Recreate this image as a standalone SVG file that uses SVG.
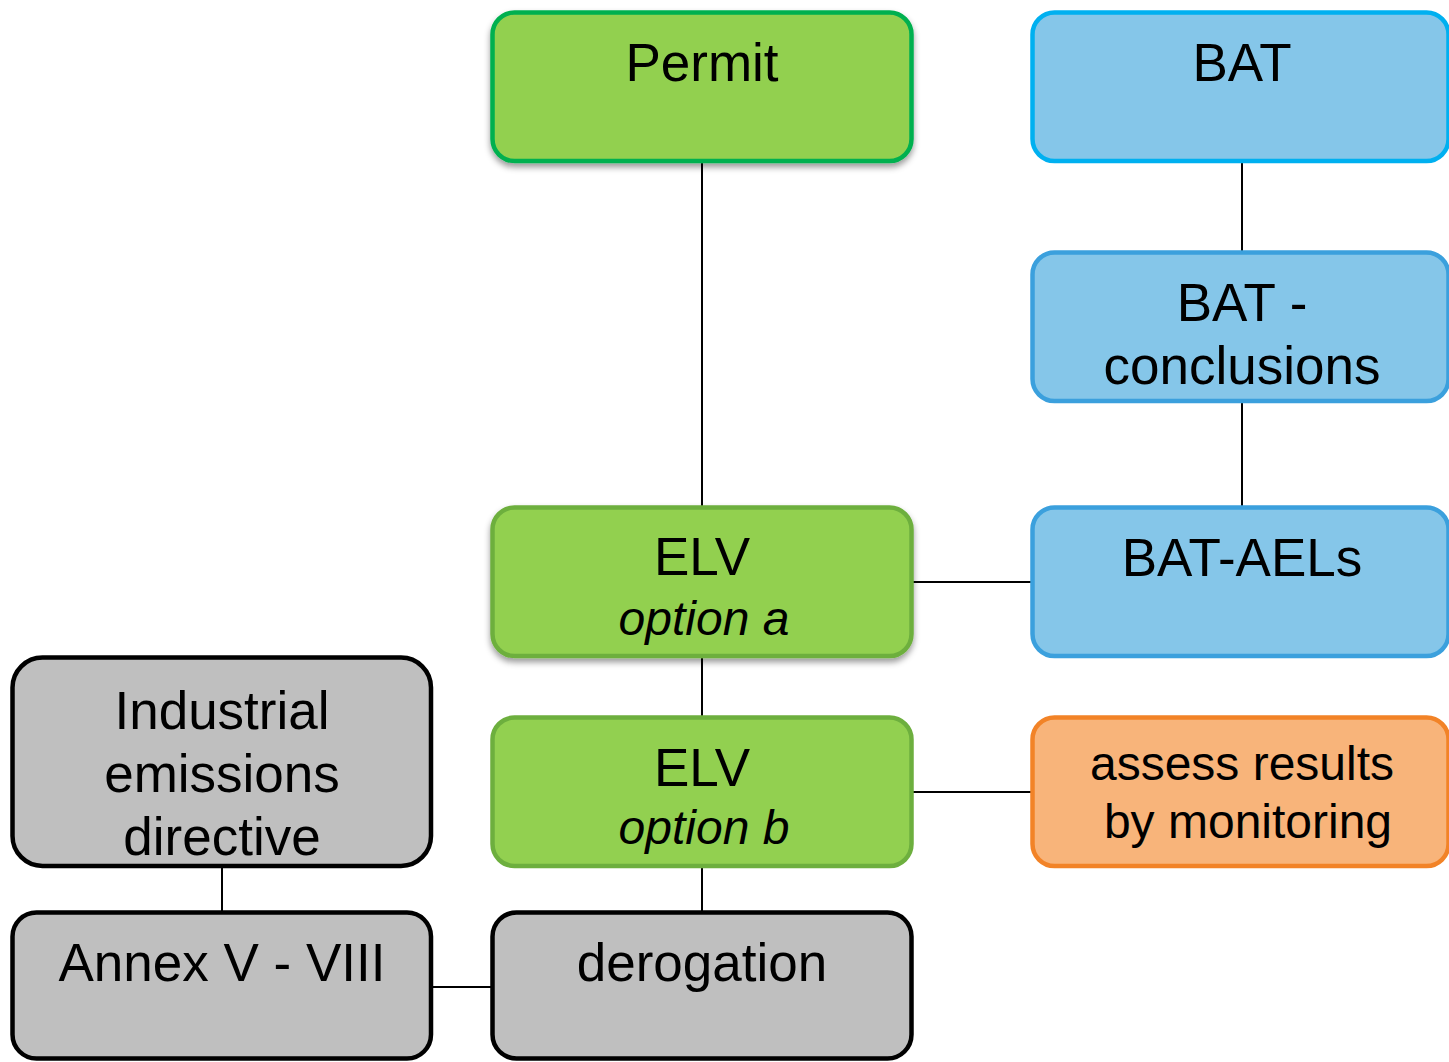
<svg xmlns="http://www.w3.org/2000/svg" width="1449" height="1062" viewBox="0 0 1449 1062">
  <style>
    .box { stroke-width: 4.5; }
    .green { fill: #92D050; stroke: #6DAF3E; }
    .permit { fill: #92D050; stroke: #00B050; }
    .blue { fill: #85C6E9; stroke: #3BA0DD; }
    .bat { fill: #85C6E9; stroke: #00B0F0; }
    .orange { fill: #F8B47A; stroke: #F28327; }
    .grey { fill: #BFBFBF; stroke: #000000; }
    .lbl { font-family: "Liberation Sans", Arial, sans-serif; font-size: 53px; fill: #000; text-anchor: middle; }
    .sm { font-size: 48px; }
    .it { font-style: italic; }
    .conn line { stroke: #000; stroke-width: 2; }
  </style>
  <defs>
    <filter id="shadow" x="-10%" y="-10%" width="120%" height="130%">
      <feDropShadow dx="0" dy="4" stdDeviation="3" flood-color="#000" flood-opacity="0.4"/>
    </filter>
  </defs>

  <!-- connectors -->
  <g id="connectors" class="conn">
    <line x1="702" y1="161" x2="702" y2="507"/>
    <line x1="1242" y1="161" x2="1242" y2="252"/>
    <line x1="1242" y1="401" x2="1242" y2="507"/>
    <line x1="912" y1="582" x2="1032" y2="582"/>
    <line x1="702" y1="656" x2="702" y2="717"/>
    <line x1="912" y1="792" x2="1032" y2="792"/>
    <line x1="702" y1="866" x2="702" y2="912"/>
    <line x1="222" y1="866" x2="222" y2="912"/>
    <line x1="431" y1="987" x2="492" y2="987"/>
  </g>

  <g id="permit">
    <rect class="box permit" x="492.5" y="12.5" width="419" height="148.5" rx="22" filter="url(#shadow)"/>
    <text class="lbl" x="702" y="81">Permit</text>
  </g>

  <g id="bat">
    <rect class="box bat" x="1032.5" y="12.5" width="416" height="148.5" rx="22"/>
    <text class="lbl" x="1242" y="81">BAT</text>
  </g>

  <g id="bat-conclusions">
    <rect class="box blue" x="1032.5" y="252.5" width="416" height="148.5" rx="22"/>
    <text class="lbl" x="1242" y="321">BAT -</text>
    <text class="lbl" x="1242" y="384">conclusions</text>
  </g>

  <g id="bat-aels">
    <rect class="box blue" x="1032.5" y="507.5" width="416" height="148.5" rx="22"/>
    <text class="lbl" x="1242" y="576">BAT-AELs</text>
  </g>

  <g id="elv-a">
    <rect class="box green" x="492.5" y="507.5" width="419" height="148.5" rx="22" filter="url(#shadow)"/>
    <text class="lbl" x="702" y="575">ELV</text>
    <text class="lbl sm it" x="704" y="635">option a</text>
  </g>

  <g id="elv-b">
    <rect class="box green" x="492.5" y="717.5" width="419" height="148.5" rx="22"/>
    <text class="lbl" x="702" y="786">ELV</text>
    <text class="lbl sm it" x="704" y="844">option b</text>
  </g>

  <g id="assess">
    <rect class="box orange" x="1032.5" y="717.5" width="416" height="148.5" rx="22"/>
    <text class="lbl sm" x="1242" y="780">assess results</text>
    <text class="lbl sm" x="1248" y="838">by monitoring</text>
  </g>

  <g id="ied">
    <rect class="box grey" x="12.5" y="657.5" width="418.5" height="208.5" rx="30"/>
    <text class="lbl" x="222" y="729">Industrial</text>
    <text class="lbl" x="222" y="792">emissions</text>
    <text class="lbl" x="222" y="855">directive</text>
  </g>

  <g id="annex">
    <rect class="box grey" x="12.5" y="912.5" width="418.5" height="146" rx="24"/>
    <text class="lbl" x="222" y="981">Annex V - VIII</text>
  </g>

  <g id="derogation">
    <rect class="box grey" x="492.5" y="912.5" width="419" height="146" rx="24"/>
    <text class="lbl" x="702" y="981">derogation</text>
  </g>
</svg>
